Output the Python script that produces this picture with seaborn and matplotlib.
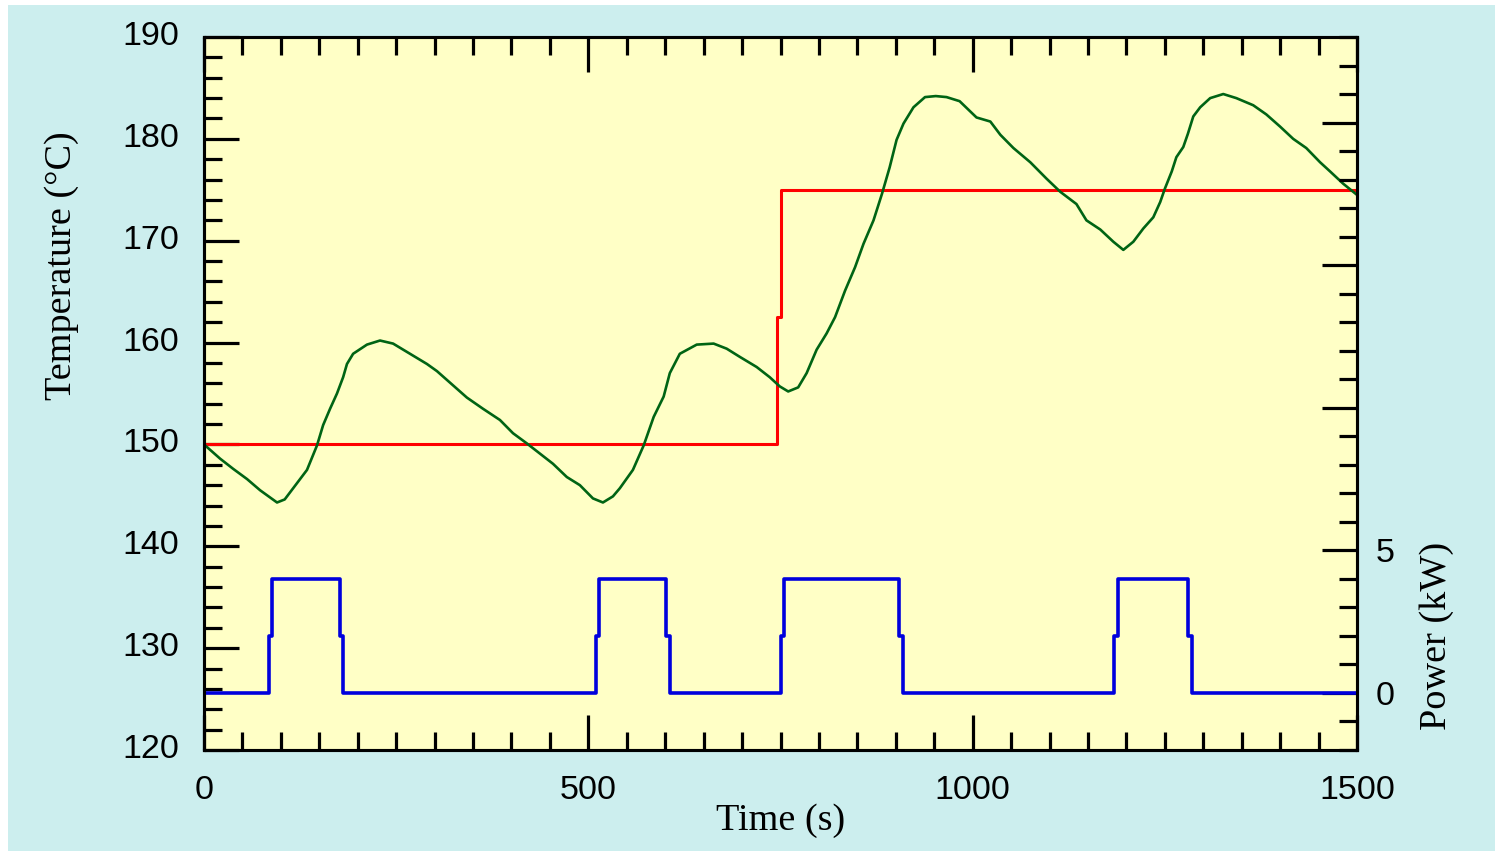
import matplotlib
matplotlib.use("Agg")
import matplotlib.pyplot as plt
import matplotlib.transforms as mtransforms
from matplotlib.patches import Rectangle
from matplotlib.ticker import MultipleLocator
import seaborn as sns

# -----------------------------
# Style
# -----------------------------
sns.set_theme(style="ticks", rc={
    "axes.edgecolor": "black",
    "xtick.color": "black",
    "ytick.color": "black",
    "text.color": "black",
    "axes.labelcolor": "black",
})
plt.rcParams["font.family"] = ["Liberation Sans", "DejaVu Sans"]

# -----------------------------
# Data
# -----------------------------
temp_time = [0, 21, 38, 56, 73, 95, 105, 121, 134, 147,
             155, 164, 173, 181, 186, 194, 212, 229, 246, 268,
             290, 303, 324, 342, 363, 385, 402, 420, 437, 454,
             472, 489, 506, 519, 532, 541, 558, 572, 585, 598,
             606, 619, 641, 663, 680, 697, 719, 736, 749, 760,
             773, 784, 797, 810, 821, 834, 847, 858, 871, 882,
             892, 901, 910, 923, 938, 952, 966, 983, 1005, 1023,
             1036, 1053, 1075, 1096, 1114, 1135, 1148, 1166, 1183, 1196,
             1209, 1222, 1235, 1244, 1250, 1259, 1265, 1274, 1280, 1287,
             1296, 1309, 1326, 1343, 1365, 1382, 1400, 1417, 1434, 1452,
             1465, 1482, 1500]
temp_c = [150.0, 148.6, 147.6, 146.6, 145.5, 144.3, 144.6, 146.2, 147.5, 149.9,
          151.9, 153.5, 155.0, 156.6, 157.9, 158.9, 159.8, 160.2, 159.9, 158.9,
          157.9, 157.2, 155.8, 154.6, 153.5, 152.4, 151.1, 150.1, 149.1, 148.1,
          146.8, 146.0, 144.7, 144.3, 144.9, 145.7, 147.5, 149.9, 152.7, 154.7,
          157.0, 158.9, 159.8, 159.9, 159.4, 158.6, 157.6, 156.6, 155.7, 155.2,
          155.6, 157.0, 159.3, 160.9, 162.5, 165.1, 167.4, 169.7, 172.0, 174.6,
          177.2, 179.9, 181.5, 183.1, 184.1, 184.2, 184.1, 183.7, 182.1, 181.7,
          180.4, 179.1, 177.7, 176.1, 174.8, 173.6, 172.0, 171.1, 169.9, 169.1,
          169.9, 171.2, 172.3, 173.8, 175.1, 176.8, 178.2, 179.2, 180.5, 182.2,
          183.1, 184.0, 184.4, 184.0, 183.3, 182.4, 181.2, 180.0, 179.1, 177.7,
          176.8, 175.6, 174.5]

setpoint_time = [0, 745, 750, 1500]
setpoint_c = [150, 162.5, 175, 175]

power_time = [0, 85, 89, 177, 181, 510, 514, 601, 606,
              750, 755, 904, 909, 1184, 1189, 1280, 1285, 1500]
power_kw = [0, 2, 4, 2, 0, 2, 4, 2, 0,
            2, 4, 2, 0, 2, 4, 2, 0, 0]

power_ticks = [0, 5, 10, 15, 20]
power_labels = ["0", "5", "", "", ""]

# -----------------------------
# Figure
# -----------------------------
W, H = 1495, 851
fig = plt.figure(figsize=(W / 100, H / 100), dpi=100, facecolor="white")
fig.add_artist(Rectangle((8 / W, 0), 1, (H - 5) / H, transform=fig.transFigure,
                         facecolor="#cceeee", edgecolor="none", zorder=-1))

ax = fig.add_axes([204 / W, 101 / H, 1153 / W, 713 / H])
ax.set_facecolor("#ffffc6")
ax2 = ax.twinx()

sns.lineplot(x=setpoint_time, y=setpoint_c, ax=ax, color="#ff0000",
             linewidth=2.2, drawstyle="steps-post", estimator=None, sort=False)
sns.lineplot(x=temp_time, y=temp_c, ax=ax, color="#006414",
             linewidth=1.9, estimator=None, sort=False)
sns.lineplot(x=power_time, y=power_kw, ax=ax2, color="#0000dd",
             linewidth=2.6, drawstyle="steps-post", estimator=None, sort=False)

ax.set_xlim(0, 1500)
ax.set_ylim(120, 190)
ax2.set_ylim(-2, 23)

ax.xaxis.set_major_locator(MultipleLocator(500))
ax.xaxis.set_minor_locator(MultipleLocator(50))
ax.yaxis.set_major_locator(MultipleLocator(10))
ax.yaxis.set_minor_locator(MultipleLocator(2))
ax2.set_yticks(power_ticks, labels=power_labels)
ax2.yaxis.set_minor_locator(MultipleLocator(1))

ax.tick_params(which="both", direction="in", top=True, bottom=True,
               left=True, right=False, width=2.3, labelsize=24.5, pad=18)
ax.tick_params(which="major", length=25)
ax.tick_params(which="minor", length=13)
ax2.tick_params(which="both", direction="in", right=True, left=False,
                width=2.3, labelsize=24.5, pad=13.5)
ax2.tick_params(which="major", length=25)
ax2.tick_params(which="minor", length=13)

for a in (ax, ax2):
    for sp in a.spines.values():
        sp.set_visible(True)
        sp.set_linewidth(2.2)
        sp.set_color("black")

# left labels sit a little above their ticks
shift = mtransforms.ScaledTranslation(0, 4 / 100, fig.dpi_scale_trans)
for lab in ax.get_yticklabels():
    lab.set_transform(lab.get_transform() + shift)

# -----------------------------
# Axis titles
# -----------------------------
serif = ["Liberation Serif", "DejaVu Serif"]
ax.set_ylabel("Temperature (°C)", family=serif, fontsize=27.5, va="center")
ax.yaxis.set_label_coords((62 - 204) / 1153, (750 - 266) / 713)
ax.set_xlabel("Time (s)", family=serif, fontsize=27.5, va="center")
ax.xaxis.set_label_coords((781 - 204) / 1153, (750 - 821) / 713)
ax2.set_ylabel("Power (kW)", family=serif, fontsize=27.5, va="center",
               rotation=90)
ax2.yaxis.set_label_coords((1437 - 204) / 1153, (750 - 636) / 713)

plt.savefig("out.png", dpi=100, facecolor=fig.get_facecolor())
plt.close()
